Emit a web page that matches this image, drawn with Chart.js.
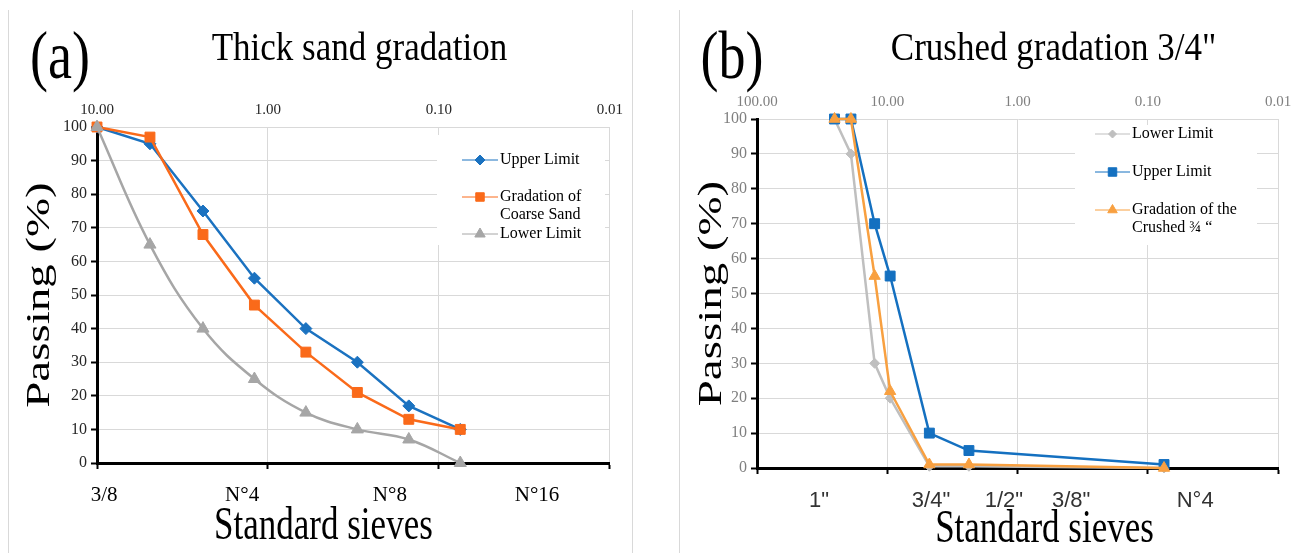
<!DOCTYPE html>
<html>
<head>
<meta charset="utf-8">
<script src="https://cdn.jsdelivr.net/npm/chart.js"></script>
<style>
  html, body { margin: 0; background: #fff; }
  #page { position: relative; width: 1306px; height: 553px; overflow: hidden; }
  .panel { position: absolute; top: 0; height: 553px; }
  .rule { position: absolute; top: 10px; bottom: 0; width: 1px; background: #d9d9d9; }
</style>
</head>
<body>
<div id="page">
  <div class="rule" style="left:8px"></div>
  <div class="rule" style="left:632px"></div>
  <div class="rule" style="left:679px"></div>
  <div class="panel" style="left:9px;width:622px"><canvas id="sand"></canvas></div>
  <div class="panel" style="left:680px;width:626px"><canvas id="crushed"></canvas></div>
</div>
<script>
// (a) thick sand -- sieve opening (mm) vs % passing
const sandSize = [10, 4.9, 2.4, 1.2, 0.6, 0.3, 0.15, 0.075];
const sandUpper = [100, 95, 75, 55, 40, 30, 17, 10];
const sandCoarse = [100, 97, 68, 47, 33, 21, 13, 10];
const sandLower = [100, 65, 40, 25, 15, 10, 7, 0];
const sandDecades = [10, 1, 0.1, 0.01];
const sandSieves = ["3/8", "N°4", "N°8", "N°16"];

// (b) crushed 3/4"
const crushedSize = [25.4, 19, 12.5, 9.5, 4.75, 2.36, 0.075];
const crushedLower = [100, 90, 30, 20, 0.5, 0.5, 0];
const crushedUpper = [100, 100, 70, 55, 10, 5, 1];
const crushedGrad = [100, 100, 55, 22, 1, 1, 0];
const crushedDecades = [100, 10, 1, 0.1, 0.01];
const crushedSieves = ['1"', '3/4"', '1/2"', '3/8"', "N°4"];

const SERIF = "'Liberation Serif', 'Times New Roman', serif";
const SANS = "'Liberation Sans', Arial, sans-serif";
const GRID = "#d9d9d9";

const pts = (xs, ys) => xs.map((x, i) => ({ x, y: ys[i] }));

// the source figure has its big text squeezed tall, so stretch it a little
function tallText(ctx, text, x, y, size, k, rotated) {
  ctx.save();
  ctx.translate(x, y);
  if (rotated) {
    ctx.rotate(-Math.PI / 2);
    ctx.scale(k, 1);
  } else {
    ctx.scale(1, k);
  }
  ctx.font = `${size}px ${SERIF}`;
  ctx.fillStyle = "#000";
  ctx.textAlign = "center";
  ctx.textBaseline = "middle";
  ctx.fillText(text, 0, 0);
  ctx.restore();
}

// "(a)" letter, heading and both axis titles
const heading = {
  id: "heading",
  afterDraw(chart, args, o) {
    const { ctx, chartArea: a } = chart;
    tallText(ctx, o.letter, o.letterX, o.letterY, 54, 1.25);
    tallText(ctx, o.text, (a.left + a.right) / 2 + o.textShift, o.textY, 35, 1.15);
    tallText(ctx, "Standard sieves", (a.left + a.right) / 2 + o.xTitleShift, o.xTitleY, 35, 1.3);
    tallText(ctx, "Passing (%)", o.yTitleX, (a.top + a.bottom) / 2, 34, 1.38, true);
  },
};

// Excel-ish legend sitting in a white box inside the plot
const boxLegend = {
  id: "boxLegend",
  beforeDatasetsDraw(chart, args, o) {
    const { ctx } = chart;
    ctx.save();
    ctx.fillStyle = "#fff";
    ctx.fillRect(o.box[0], o.box[1], o.box[2], o.box[3]);
    let y = o.y;
    chart.data.datasets.forEach((ds) => {
      ctx.strokeStyle = ds.borderColor;
      ctx.lineWidth = ds.borderWidth;
      ctx.beginPath();
      ctx.moveTo(o.x, y);
      ctx.lineTo(o.x + o.lineLen, y);
      ctx.stroke();
      ctx.fillStyle = ds.backgroundColor;
      ctx.lineWidth = 1;
      Chart.helpers.drawPoint(ctx, { pointStyle: ds.pointStyle, radius: ds.pointRadius - 1, borderWidth: 1, rotation: 0 }, o.x + o.lineLen / 2, y);
      ctx.fillStyle = "#000";
      ctx.font = `16px ${SERIF}`;
      ctx.textBaseline = "middle";
      ctx.textAlign = "left";
      ds.label.split("\n").forEach((t, i) => ctx.fillText(t, o.x + o.lineLen + 2, y + i * o.lineHeight));
      y += o.rowGap;
    });
    ctx.restore();
  },
};

function gradationChart(id, p) {
  const decadeTicks = (s) => { s.ticks = p.decades.map((value) => ({ value })); };
  return new Chart(document.getElementById(id), {
    type: "line",
    data: { datasets: p.datasets },
    plugins: [heading, boxLegend],
    options: {
      responsive: true,
      maintainAspectRatio: false,
      animation: false,
      events: [],
      layout: { padding: p.padding },
      elements: { line: { borderWidth: 2.5 }, point: { borderWidth: 1 } },
      plugins: {
        legend: { display: false },
        tooltip: { enabled: false },
        heading: p.heading,
        boxLegend: p.legend,
      },
      scales: {
        x: {
          type: "logarithmic", reverse: true, position: "bottom", weight: 0,
          min: p.decades[p.decades.length - 1], max: p.decades[0],
          afterBuildTicks: decadeTicks,
          afterFit: (s) => { s.height = 14; },
          ticks: { display: false },
          grid: { color: GRID, tickColor: "#000", tickLength: 6, tickWidth: 2 },
          border: { color: "#000", width: 3 },
        },
        top: {
          type: "logarithmic", reverse: true, position: "top",
          min: p.decades[p.decades.length - 1], max: p.decades[0],
          afterBuildTicks: decadeTicks,
          afterFit: (s) => { s.height = 30; },
          grid: { display: false, drawTicks: false },
          border: { display: false },
          ticks: {
            autoSkip: false, maxRotation: 0, padding: 8,
            color: p.tickColor, font: { family: SERIF, size: 15 },
            callback: (v) => Number(v).toFixed(2),
          },
        },
        sieve: {
          type: "linear", position: "bottom", weight: 1, min: 0, max: 1,
          afterBuildTicks: (s) => { s.ticks = p.sievePos.map((value) => ({ value })); },
          afterFit: (s) => { s.height = p.sieveHeight; },
          grid: { display: false, drawTicks: false },
          border: { display: false },
          ticks: {
            autoSkip: false, maxRotation: 0, padding: 6,
            color: p.sieveColor, font: p.sieveFont,
            callback: (v, i) => p.sieves[i],
          },
        },
        y: {
          min: 0, max: 100, position: "left",
          afterFit: (s) => { s.width = p.yWidth; },
          ticks: { stepSize: 10, padding: 4, color: p.tickColor, font: { family: SERIF, size: 16 } },
          grid: { color: GRID, tickColor: "#000", tickLength: 6, tickWidth: 2 },
          border: { color: "#000", width: 3 },
        },
      },
    },
  });
}

gradationChart("sand", {
  decades: sandDecades,
  sieves: sandSieves,
  sievePos: [0.014, 0.283, 0.571, 0.858],
  sieveFont: { family: SERIF, size: 21 },
  sieveColor: "#000",
  sieveHeight: 76,
  tickColor: "#262626",
  yWidth: 88,
  padding: { top: 97, right: 21, bottom: 0, left: 0 },
  heading: { letter: "(a)", letterX: 51, letterY: 60, text: "Thick sand gradation", textShift: 6, textY: 49,
    xTitleShift: -30, xTitleY: 527, yTitleX: 31 },
  legend: { box: [428, 135, 168, 110], x: 453, y: 160, lineLen: 36, rowGap: 37, lineHeight: 18 },
  datasets: [
    { label: "Upper Limit", data: pts(sandSize, sandUpper), borderColor: "#1b72c0", backgroundColor: "#1b72c0",
      pointStyle: "rectRot", pointRadius: 6, order: 2 },
    { label: "Gradation of\nCoarse Sand", data: pts(sandSize, sandCoarse), borderColor: "#fa6a1a", backgroundColor: "#fa6a1a",
      pointStyle: "rect", pointRadius: 7, order: 1 },
    { label: "Lower Limit", data: pts(sandSize, sandLower), borderColor: "#a6a6a6", backgroundColor: "#a6a6a6",
      pointStyle: "triangle", pointRadius: 7, tension: 0.4, order: 0 },
  ].map((d) => ({ ...d, clip: false })),
});

gradationChart("crushed", {
  decades: crushedDecades,
  sieves: crushedSieves,
  sievePos: [0.119, 0.334, 0.474, 0.603, 0.841],
  sieveFont: { family: SANS, size: 22 },
  sieveColor: "#333",
  sieveHeight: 71,
  tickColor: "#7f7f7f",
  yWidth: 77,
  padding: { top: 89, right: 28, bottom: 0, left: 0 },
  heading: { letter: "(b)", letterX: 52, letterY: 60, text: "Crushed gradation 3/4\"", textShift: 36, textY: 49,
    xTitleShift: 27, xTitleY: 530, yTitleX: 32 },
  legend: { box: [395, 125, 182, 120], x: 415, y: 134, lineLen: 35, rowGap: 38, lineHeight: 18 },
  datasets: [
    { label: "Lower Limit", data: pts(crushedSize, crushedLower), borderColor: "#bfbfbf", backgroundColor: "#bfbfbf",
      pointStyle: "rectRot", pointRadius: 5, order: 2 },
    { label: "Upper Limit", data: pts(crushedSize, crushedUpper), borderColor: "#1470c0", backgroundColor: "#1470c0",
      pointStyle: "rect", pointRadius: 7, order: 1 },
    { label: "Gradation of the\nCrushed ¾ “", data: pts(crushedSize, crushedGrad), borderColor: "#f8a040", backgroundColor: "#f8a040",
      pointStyle: "triangle", pointRadius: 6.5, order: 0 },
  ].map((d) => ({ ...d, clip: false })),
});
</script>
</body>
</html>
